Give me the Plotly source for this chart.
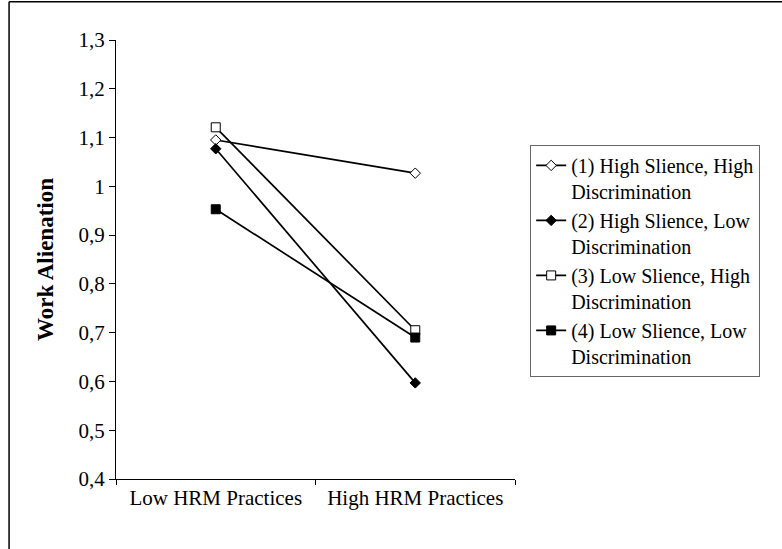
import plotly.graph_objects as go

categories = ["Low HRM Practices", "High HRM Practices"]
series_names = [
    "(1) High Slience, High<br>Discrimination",
    "(2) High Slience, Low<br>Discrimination",
    "(3) Low Slience, High<br>Discrimination",
    "(4) Low Slience, Low<br>Discrimination",
]
s1 = [1.095, 1.027]
s2 = [1.077, 0.597]
s3 = [1.121, 0.705]
s4 = [0.953, 0.690]
tick_vals = [0.4, 0.5, 0.6, 0.7, 0.8, 0.9, 1.0, 1.1, 1.2, 1.3]
tick_text = ["0,4", "0,5", "0,6", "0,7", "0,8", "0,9", "1", "1,1", "1,2", "1,3"]

series = [s1, s2, s3, s4]
symbols = ["diamond", "diamond", "square", "square"]
fills = ["white", "black", "white", "black"]
sizes = [8, 8, 9, 9]

FONT = "Liberation Serif, Times New Roman, serif"

fig = go.Figure()
for name, vals, sym, fc, sz in zip(series_names, series, symbols, fills, sizes):
    fig.add_trace(go.Scatter(
        x=categories, y=vals, name=name, mode="lines+markers",
        line=dict(color="black", width=1.7),
        marker=dict(symbol=sym, size=sz, color=fc, line=dict(color="black", width=1)),
    ))

fig.update_layout(
    width=782, height=549,
    margin=dict(l=116, r=267, t=40, b=70),
    paper_bgcolor="white", plot_bgcolor="white",
    font=dict(family=FONT, size=21, color="black"),
    showlegend=True,
    legend=dict(
        x=1.038, y=0.761, xanchor="left", yanchor="top",
        bordercolor="#666666", borderwidth=1,
        valign="top", tracegroupgap=0,
        font=dict(family=FONT, size=20, color="black"),
    ),
    xaxis=dict(
        type="category", range=[-0.5, 1.5],
        showline=True, linecolor="black", linewidth=1,
        ticks="outside", tickson="boundaries", ticklen=5, tickcolor="black",
        showgrid=False, zeroline=False,
        tickfont=dict(family=FONT, size=21),
    ),
    yaxis=dict(
        range=[0.4, 1.3], tickvals=tick_vals, ticktext=tick_text,
        showline=True, linecolor="black", linewidth=1,
        ticks="outside", ticklen=6, tickcolor="black",
        showgrid=False, zeroline=False,
        tickfont=dict(family=FONT, size=21),
        title=dict(text="<b>Work Alienation</b>", font=dict(family=FONT, size=23), standoff=18),
    ),
    shapes=[
        dict(type="line", xref="paper", yref="paper",
             x0=-0.268, x1=-0.268, y0=-0.3, y1=1.087,
             line=dict(color="black", width=1.5)),
        dict(type="line", xref="paper", yref="paper",
             x0=-0.268, x1=1.7, y0=1.087, y1=1.087,
             line=dict(color="black", width=1.5)),
    ],
)

fig.write_html(
    "out.html",
    config={"displayModeBar": False},
    post_script="document.body.style.margin='0';document.body.style.overflow='hidden';",
)
